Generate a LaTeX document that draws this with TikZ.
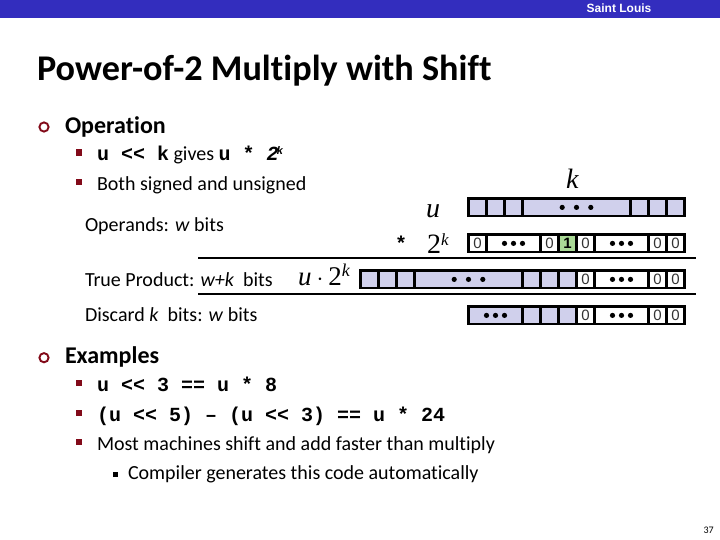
\documentclass[tikz,border=0pt]{standalone}
\usepackage{fontspec}
\setmainfont[Ligatures=NoCommon]{Carlito}
\setmonofont{Liberation Mono}
\newfontfamily\serifit{Liberation Serif}
\newfontfamily\arialb{Liberation Sans}
\usepackage{tikz}
\usetikzlibrary{calc}
\usetikzlibrary{positioning}
\definecolor{slubar}{RGB}{51,45,190}
\definecolor{bullet}{RGB}{130,10,25}
\definecolor{cellfill}{RGB}{208,208,236}
\definecolor{onefill}{RGB}{170,218,150}
\newcommand{\mono}[1]{{\ttfamily\bfseries #1}}
\tikzset{
	txt/.style={anchor=base west,inner sep=0pt,outer sep=0pt,font=\fontsize{#1}{#1}\selectfont},
	cell/.style={draw=black,line width=2.6pt,minimum height=17.4pt,inner sep=0pt,outer sep=0pt,anchor=north west},
	pcell/.style={cell,fill=cellfill},
	wcell/.style={cell,fill=white},
	digit/.style={font=\arialb\fontsize{15}{15}\selectfont,text=black!80},
}
\begin{document}
\begin{tikzpicture}[x=1pt,y=-1pt]
	\useasboundingbox (0,0) rectangle (720,540);
	% title bar
	\fill[slubar] (0,0) rectangle (720,18);
	\node[anchor=base,inner sep=0pt,text=white,font=\arialb\bfseries\fontsize{12}{12}\selectfont] (org) at (619,13) {Saint Louis};
	\node[txt=36,font=\bfseries\fontsize{36.2}{36.2}\selectfont] (title) at (37,81) {Power-of-2 Multiply with Shift};
	% bullets
	\foreach \y in {127,357.7}{
		\draw[bullet,line width=1.9pt] (44,\y) circle (4.6pt);
	}
	\foreach \y in {149.5,179,380,409.5,438.5}{
		\fill[bullet] (76,\y) rectangle +(6.3,6.3);
	}
	\fill[black] (113,472) rectangle +(5,5);
	% text
	\node[txt=24,font=\bfseries\fontsize{24}{24}\selectfont] (oper) at (65,133.5) {Operation};
	\node[txt=20] (shift) at (97,161) {\mono{u << k} gives \mono{u * \itshape 2\hspace{-2pt}\raisebox{6pt}{\fontsize{11}{11}\selectfont k}}};
	\node[txt=20] (both) at (97,191) {Both signed and unsigned};
	\node[txt=20] (operands) at (85,232) {Operands: \textit{w} bits};
	\node[txt=20] (trueprod) at (85,286) {True Product: \textit{w+k}\ \ bits};
	\node[txt=20] (discard) at (85,321) {Discard \textit{k}\ \ bits: \textit{w} bits};
	\node[txt=24,font=\bfseries\fontsize{24}{24}\selectfont] (exam) at (65,363.5) {Examples};
	\node[txt=20,font=\ttfamily\bfseries\fontsize{20}{20}\selectfont] (exa) at (97,391) {u << 3 == u * 8};
	\node[txt=20,font=\ttfamily\bfseries\fontsize{20}{20}\selectfont] (exb) at (97,421) {(u << 5) – (u << 3) == u * 24};
	\node[txt=20] (exc) at (97,450) {Most machines shift and add faster than multiply};
	\node[txt=20] (exd) at (128,479) {Compiler generates this code automatically};
	\node[anchor=base east,inner sep=0pt,font=\fontsize{10}{10}\selectfont] (page) at (714,533) {37};
	% math labels
	\node[txt=28,font=\serifit\itshape\fontsize{28}{28}\selectfont] (lblk) at (566,189) {k};
	\node[txt=28,font=\serifit\itshape\fontsize{28}{28}\selectfont] (lblu) at (426,218) {u};
	\node[txt=28,font=\serifit\fontsize{28}{28}\selectfont] (lbltwo) at (427,254) {2\raisebox{9pt}{\fontsize{17}{17}\selectfont\itshape k}};
	\node[txt=20,font=\ttfamily\bfseries\fontsize{20}{20}\selectfont] (lblstar) at (395,250) {*};
	\node[txt=28,font=\serifit\fontsize{27}{27}\selectfont] (lblprod) at (298,285) {\itshape u\hspace{5pt}\upshape$\cdot$\hspace{5pt}2\raisebox{9pt}{\fontsize{18}{18}\selectfont\itshape k}};
	% rules
	\draw[line width=2.7pt] (198,258) -- (696,258);
	\draw[line width=2.7pt] (198,294) -- (696,294);
	% u row
	\foreach \x/\w in {468/18,486/18,504/18,522/108,630/18,648/18,666/18}{
		\node[pcell,minimum width=\w pt] (u\x) at (\x+.5,198.7) {};
	}
	% 2^k row
	\foreach \x/\w in {468/18,486/54,540/18,558/18,576/18,594/54,648/18,666/18}{
		\node[wcell,minimum width=\w pt] (p\x) at (\x+.5,234.7) {};
	}
	\node[pcell,fill=onefill,minimum width=18pt] (pone) at (558.5,234.7) {};
	% product row
	\foreach \x/\w in {360/18,378/18,396/18,414/108,522/18,540/18,558/18}{
		\node[pcell,minimum width=\w pt] (t\x) at (\x+.5,270.7) {};
	}
	\foreach \x/\w in {576/18,594/54,648/18,666/18}{
		\node[wcell,minimum width=\w pt] (t\x) at (\x+.5,270.7) {};
	}
	% discard row
	\foreach \x/\w in {468/54,522/18,540/18,558/18}{
		\node[pcell,minimum width=\w pt] (d\x) at (\x+.5,306.7) {};
	}
	\foreach \x/\w in {576/18,594/54,648/18,666/18}{
		\node[wcell,minimum width=\w pt] (d\x) at (\x+.5,306.7) {};
	}
	% digits
	\foreach \n in {p468,p540,p576,p648,p666,t576,t648,t666,d576,d648,d666}{
		\node[digit] at (\n) {0};
	}
	\node[digit,font=\arialb\bfseries\fontsize{15}{15}\selectfont,text=black] at (pone) {1};
	% dots
	\foreach \n in {u522,t414}{
		\foreach \d in {-14.3,0,14.3}{
			\fill ($(\n)+(\d,0)$) circle (2.6pt);
		}
	}
	\foreach \n in {p486,p594,t594,d468,d594}{
		\foreach \d in {-9,0,9}{
			\fill ($(\n)+(\d,0)$) circle (2.6pt);
		}
	}
\end{tikzpicture}
\end{document}
